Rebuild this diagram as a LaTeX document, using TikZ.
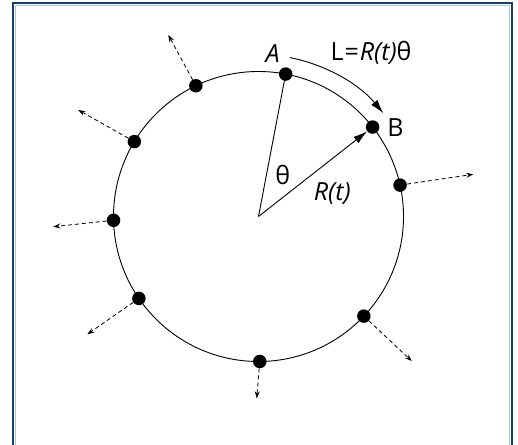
\documentclass[tikz,border=0pt]{standalone}
\usepackage{fontspec}
\setmainfont{Open Sans}
\usetikzlibrary{arrows.meta,calc}
\definecolor{framenavy}{HTML}{1B3F66}
\definecolor{framelight}{HTML}{A9C7E6}
\tikzset{
  dot/.style={circle,fill=black,draw=none,minimum size=13.5pt,inner sep=0pt},
  outarrow/.style={dashed,dash pattern=on 4pt off 3pt,line width=0.8pt,-{Stealth[length=7pt,width=5pt]}},
  radius line/.style={line width=0.9pt},
  big tip/.style={line width=0.9pt,-{Latex[length=14pt,width=8pt]}},
  lbl/.style={font=\fontsize{25}{28}\selectfont,inner sep=0pt},
}
\begin{document}
\begin{tikzpicture}[x=1pt,y=1pt]
\useasboundingbox (0,0) rectangle (518,444);
\begin{scope}
\clip (0,0) rectangle (518,444);
\draw[framenavy,line width=2pt] (13.3,-5) -- (13.3,441) -- (511.7,441) -- (511.7,-5);
\draw[framelight,line width=0.8pt] (15.5,-5) -- (15.5,439) -- (509.5,439) -- (509.5,-5);
\end{scope}
\coordinate (O) at (258.5,227.5);
\draw[line width=0.9pt] (O) circle[radius=145];
% dots
\node[dot] (A) at ($(O)+(79.2:145)$) {};
\node[dot] (B) at ($(O)+(38.1:145)$) {};
\node[dot] (d1) at ($(O)+(12.5:145)$) {};
\node[dot] (d2) at ($(O)+(-43.4:145)$) {};
\node[dot] (d3) at ($(O)+(-89.5:145)$) {};
\node[dot] (d4) at ($(O)+(214.4:145)$) {};
\node[dot] (d5) at ($(O)+(181.5:145)$) {};
\node[dot] (d6) at ($(O)+(148.9:145)$) {};
\node[dot] (d7) at ($(O)+(115.6:145)$) {};
% dashed arrow ends
\coordinate (e1) at (473.3,269.7);
\coordinate (e2) at (411.7,83);
\coordinate (e3) at (256.7,45.7);
\coordinate (e4) at (87.3,109.7);
\coordinate (e5) at (53.3,217.3);
\coordinate (e6) at (78.3,334);
\coordinate (e7) at (168.3,409);
\draw[outarrow] (d1) -- (e1);
\draw[outarrow] (d2) -- (e2);
\draw[outarrow] (d3) -- (e3);
\draw[outarrow] (d4) -- (e4);
\draw[outarrow] (d5) -- (e5);
\draw[outarrow] (d6) -- (e6);
\draw[outarrow] (d7) -- (e7);
% radii
\draw[radius line] (O) -- (A.center);
\draw[big tip] (O) -- (B);
% arc
\draw[big tip] ($(O)+(78.8:162)$) arc[start angle=78.8,end angle=39.6,radius=162];
% labels
\node[lbl] (lA) at (272.7,390.7) {\itshape A};
\node[lbl] (lL) at (371,391.3) {L\kern1pt=\kern1pt\itshape R(t)\upshape θ};
\node[lbl] (lB) at (395.5,316.7) {B};
\node[lbl] (lth) at (282.7,269) {θ};
\node[lbl] (lR) at (332.3,250.7) {\itshape R(t)};
\end{tikzpicture}
\end{document}
